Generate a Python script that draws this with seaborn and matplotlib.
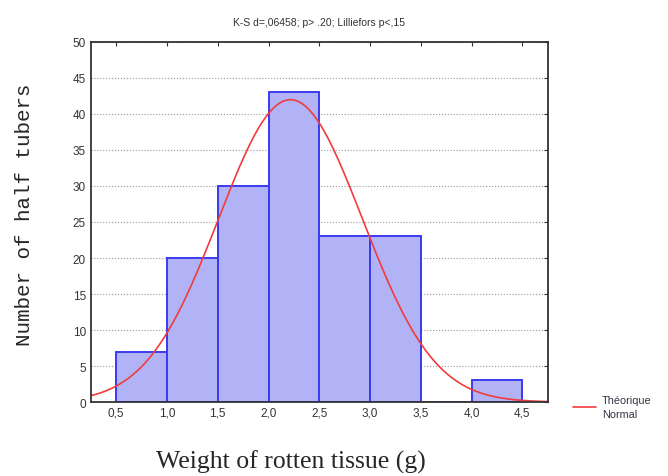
import numpy as np
import matplotlib
matplotlib.use('Agg')
import matplotlib.pyplot as plt
import pandas as pd
import seaborn as sns

# histogram
bin_edges = [0.5, 1.0, 1.5, 2.0, 2.5, 3.0, 3.5, 4.0, 4.5]
counts = [7, 20, 30, 43, 23, 23, 0, 3]
# fitted normal (mean / sd of the data)
fit_mean = 2.216
fit_sd = 0.708

x_ticks = [0.5, 1.0, 1.5, 2.0, 2.5, 3.0, 3.5, 4.0, 4.5]
y_ticks = [0, 5, 10, 15, 20, 25, 30, 35, 40, 45, 50]
title = "K-S d=,06458; p> .20; Lilliefors p<,15"

sns.set_style('white')
plt.rcParams['font.family'] = ['Liberation Sans', 'DejaVu Sans']

mids = [(a + b) / 2 for a, b in zip(bin_edges[:-1], bin_edges[1:])]
df = pd.DataFrame({'weight': mids, 'n': counts})

fig = plt.figure(figsize=(6.68, 4.77), dpi=100)
ax = fig.add_axes([0.136, 0.155, 0.684, 0.755])

sns.histplot(data=df, x='weight', weights='n', bins=bin_edges, ax=ax,
             color='#b2b2f6', edgecolor='#3a3af0', linewidth=1.4, alpha=1)

# theoretical normal curve scaled to counts
bw = bin_edges[1] - bin_edges[0]
xs = np.linspace(0.25, 4.75, 300)
ys = sum(counts) * bw * np.exp(-0.5 * ((xs - fit_mean) / fit_sd) ** 2) / (fit_sd * np.sqrt(2 * np.pi))
sns.lineplot(x=xs, y=ys, ax=ax, color='#f03c3c', linewidth=1.2, label='Théorique\nNormal')

ax.set_xlim(0.25, 4.75)
ax.set_ylim(0, 50)
ax.set_xticks(x_ticks)
ax.set_xticklabels([f'{v:.1f}'.replace('.', ',') for v in x_ticks])
ax.set_yticks(y_ticks)
ax.set_yticklabels([str(v) for v in y_ticks])
ax.tick_params(axis='both', labelsize=8.5, colors='#333333', direction='in', length=3,
               top=True, right=True)
ax.yaxis.grid(True, linestyle=':', color='#999999', linewidth=0.8)
ax.set_axisbelow(True)
for s in ax.spines.values():
    s.set_color('#333333')
    s.set_linewidth(1.3)

ax.set_xlabel('')
ax.set_ylabel('')
ax.set_title(title, fontsize=7.5, color='#333333', pad=12)

fig.text(0.436, 0.030, 'Weight of rotten tissue (g)', family='Liberation Serif',
         fontsize=18.5, ha='center', va='center')
fig.text(0.037, 0.549, 'Number of half tubers', family='Liberation Mono',
         fontsize=15, rotation=90, ha='center', va='center')

leg = ax.legend(loc='lower left', bbox_to_anchor=(1.045, -0.06), frameon=False,
                fontsize=7.8, handlelength=2.2, handletextpad=0.5, borderaxespad=0)
for t in leg.get_texts():
    t.set_color('#333344')
    t.set_linespacing(1.55)

fig.savefig('out.png', dpi=100)
